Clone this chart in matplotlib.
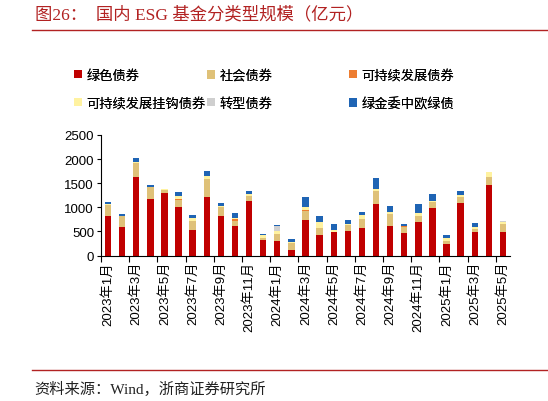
import numpy as np
import matplotlib
matplotlib.use("Agg")
import matplotlib.pyplot as plt
from matplotlib.patches import Patch

plt.rcParams['font.family'] = ['Liberation Sans', 'Noto Sans CJK SC']

# Monthly data, 2023-01 .. 2025-05 (亿元)
months = [f"{y}年{m}月" for y in (2023, 2024, 2025) for m in range(1, 13)][:29]

green = [820, 600, 1625, 1180, 1300, 1015, 535, 1220, 825, 620, 1140, 325, 305, 120,
         745, 430, 495, 515, 575, 1075, 620, 470, 695, 980, 235, 1090, 485, 1465, 485]
social = [230, 225, 290, 235, 60, 130, 185, 375, 175, 95, 85, 45, 140, 145,
          185, 145, 0, 110, 190, 270, 250, 120, 125, 120, 75, 125, 65, 165, 165]
sustain = [0, 0, 0, 0, 0, 35, 0, 0, 0, 35, 0, 0, 0, 0,
           20, 0, 0, 0, 0, 0, 0, 20, 0, 0, 0, 0, 0, 0, 0]
slb = [15, 0, 15, 10, 10, 55, 55, 60, 25, 20, 55, 55, 70, 15,
       55, 120, 25, 20, 75, 30, 30, 0, 70, 40, 50, 40, 35, 95, 35]
transition = [0, 0, 0, 0, 0, 0, 0, 0, 0, 0, 0, 0, 90, 0,
              0, 0, 0, 0, 0, 0, 0, 0, 0, 0, 0, 0, 0, 0, 30]
cgt = [35, 30, 95, 45, 20, 85, 70, 90, 65, 110, 60, 20, 35, 55,
       215, 120, 140, 90, 70, 235, 125, 50, 180, 130, 65, 85, 90, 0, 0]

series = [
    ("绿色债券", green, "#C00000"),
    ("社会债券", social, "#DFC178"),
    ("可持续发展债券", sustain, "#ED7D31"),
    ("可持续发展挂钩债券", slb, "#FFF2A0"),
    ("转型债券", transition, "#CFCFCF"),
    ("绿金委中欧绿债", cgt, "#1F64B4"),
]

fig = plt.figure(figsize=(5.48, 4.02), dpi=100)
ax = fig.add_axes([101 / 548, 1 - 256.5 / 402, 409 / 548, 120.5 / 402])

x = np.arange(len(months))
bottom = np.zeros(len(months))
handles = []
for name, vals, color in series:
    vals = np.array(vals, dtype=float)
    ax.bar(x, vals, width=0.45, bottom=bottom, color=color, linewidth=0)
    bottom += vals
    handles.append(Patch(facecolor=color, label=name))

ax.set_xlim(-0.5, len(months) - 0.5)
ax.set_ylim(0, 2500)
ax.set_yticks(range(0, 2501, 500))
ax.tick_params(axis='y', labelsize=9.5, length=3, width=0.8, pad=2)

# category labels every second month, tick marks at category boundaries
ax.set_xticks(x[::2])
ax.set_xticklabels(months[::2], rotation=90, fontsize=9.5)
ax.tick_params(axis='x', length=0, pad=4)
ax.set_xticks(np.arange(-0.5, len(months) - 0.5, 2), minor=True)
ax.tick_params(axis='x', which='minor', length=4, width=0.8, direction='out')

for s in ['top', 'right']:
    ax.spines[s].set_visible(False)
ax.spines['left'].set_linewidth(0.8)
ax.spines['bottom'].set_linewidth(0.8)

# legend: three columns placed like the reference
col_x = [74, 207, 349]
for i, cx in enumerate(col_x):
    leg = fig.legend(handles=[handles[i], handles[i + 3]], loc='upper left',
                     bbox_to_anchor=(cx / 548, 1 - 70 / 402), frameon=False,
                     fontsize=9.5, handlelength=0.6, handleheight=0.6,
                     handletextpad=0.35, labelspacing=1.15, borderaxespad=0,
                     borderpad=0)
    fig.add_artist(leg)

# title, rules and source
fig.text(35 / 548, 1 - 15 / 402, "图26：  国内 ESG 基金分类型规模（亿元）",
         color="#B22222", fontsize=12.5, va='center', ha='left',
         family=['Liberation Serif', 'Noto Sans CJK SC'])
fig.add_artist(plt.Line2D([32 / 548, 1], [1 - 31 / 402] * 2, color="#B22222", lw=1))
fig.add_artist(plt.Line2D([32 / 548, 1], [1 - 371 / 402] * 2, color="#B22222", lw=1))
fig.text(34 / 548, 1 - 389 / 402, "资料来源：Wind，浙商证券研究所",
         color="#222222", fontsize=11, va='center', ha='left',
         family=['Liberation Serif', 'Noto Sans CJK SC'])

fig.savefig("out.png", dpi=100)
